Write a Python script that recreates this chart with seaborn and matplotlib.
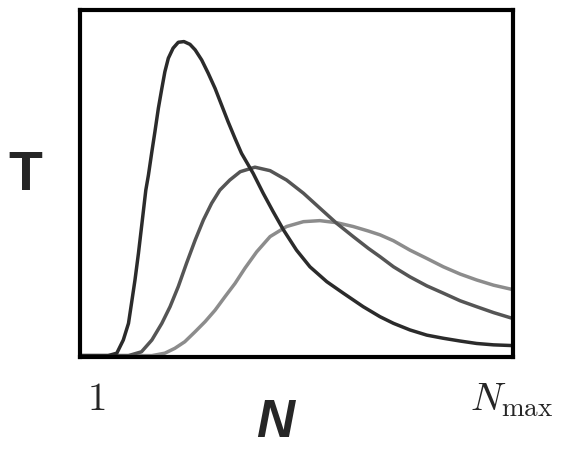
import pandas as pd
import seaborn as sns
import matplotlib.pyplot as plt

# Curve values (N in % of range, T in % of axis height)
n_dark = [0, 6.5, 8.5, 10.0, 11.2, 11.9, 12.7, 13.5, 14.4, 15.2, 15.8, 16.6, 17.3, 18.1,
          18.9, 19.6, 20.4, 21.5, 22.7, 24.0, 25.4, 26.6, 28.1, 29.6, 31.2, 32.7, 34.2,
          35.8, 37.3, 40.0, 42.3, 44.6, 47.0, 50.0, 53.1, 57.0, 60.8, 65.4, 69.3, 72.4,
          76.2, 80.1, 83.9, 87.8, 91.6, 95.5, 99.7]
t_dark = [0.4, 0.4, 1.1, 4.9, 9.7, 15.5, 22.2, 29.9, 39.5, 48.1, 52.4, 59.2, 64.9, 71.7,
          77.4, 82.2, 86.1, 89.0, 90.7, 90.9, 90.1, 88.5, 85.6, 81.8, 77.4, 72.6, 67.8,
          63.0, 58.7, 52.9, 47.2, 41.9, 36.6, 30.8, 26.0, 21.7, 18.4, 14.5, 11.6, 9.7,
          7.8, 6.3, 5.4, 4.6, 3.9, 3.5, 3.3]

n_mid = [0, 11.2, 14.2, 16.6, 18.9, 20.8, 22.7, 24.6, 26.6, 28.5, 30.4, 32.3, 34.6, 37.0,
         40.4, 43.9, 47.7, 51.6, 55.4, 59.3, 63.1, 66.6, 69.3, 72.4, 76.2, 80.1, 83.9,
         87.8, 91.6, 95.5, 99.7]
t_mid = [0.4, 0.4, 1.5, 4.9, 9.7, 14.5, 20.3, 27.0, 33.7, 39.5, 44.3, 48.1, 51.0, 53.4,
         54.7, 53.7, 51.0, 47.2, 42.9, 38.5, 34.7, 31.3, 28.9, 26.0, 23.1, 20.5, 18.4,
         16.2, 14.5, 12.8, 11.2]

n_light = [0, 16.6, 19.6, 21.9, 24.2, 26.6, 28.9, 31.2, 33.5, 35.8, 38.1, 40.8, 43.9,
           47.7, 51.6, 55.4, 59.3, 63.1, 66.6, 69.3, 72.4, 76.2, 80.1, 83.9, 87.8, 91.6,
           95.5, 99.7]
t_light = [0.4, 0.4, 1.1, 2.5, 4.4, 7.3, 10.2, 13.5, 17.4, 21.2, 25.6, 30.3, 34.7,
           37.6, 39.0, 39.3, 38.7, 37.6, 36.3, 35.2, 33.5, 30.8, 28.4, 26.0, 23.9, 22.2,
           20.7, 19.5]

df = pd.concat([
    pd.DataFrame({'N': n_dark, 'T': t_dark, 'curve': 'a'}),
    pd.DataFrame({'N': n_mid, 'T': t_mid, 'curve': 'b'}),
    pd.DataFrame({'N': n_light, 'T': t_light, 'curve': 'c'}),
])
palette = {'a': '#2b2b2b', 'b': '#555555', 'c': '#8c8c8c'}

sns.set_style('white')
fig = plt.figure(figsize=(5.63, 4.5), dpi=100)
ax = fig.add_axes([80 / 563, 1 - 357 / 450, 433 / 563, 347 / 450])

sns.lineplot(data=df, x='N', y='T', hue='curve', palette=palette, hue_order=['c', 'b', 'a'],
             linewidth=2.5, legend=False, sort=False, ax=ax)
for line in ax.get_lines():
    line.set_solid_joinstyle('round')
    line.set_solid_capstyle('round')
ax.set_xlim(0, 100)
ax.set_ylim(0, 100)
ax.set_xticks([])
ax.set_yticks([])
ax.set_xlabel('')
ax.set_ylabel('')
for s in ax.spines.values():
    s.set_linewidth(3)
    s.set_color('black')

plt.rcParams['mathtext.fontset'] = 'cm'
fig.text(25 / 563, 1 - 176 / 450, 'T', ha='center', va='center', fontsize=40,
         fontweight='bold', family='Liberation Sans')
fig.text(275 / 563, 1 - 423 / 450, 'N', ha='center', va='center', fontsize=38,
         fontweight='bold', fontstyle='italic', family='Liberation Sans')
fig.text(96 / 563, 1 - 399 / 450, '$1$', ha='center', va='center', fontsize=28)
fig.text(512 / 563, 1 - 400 / 450, r'$N_{\max}$', ha='center', va='center', fontsize=28)

fig.savefig('out.png', dpi=100)
